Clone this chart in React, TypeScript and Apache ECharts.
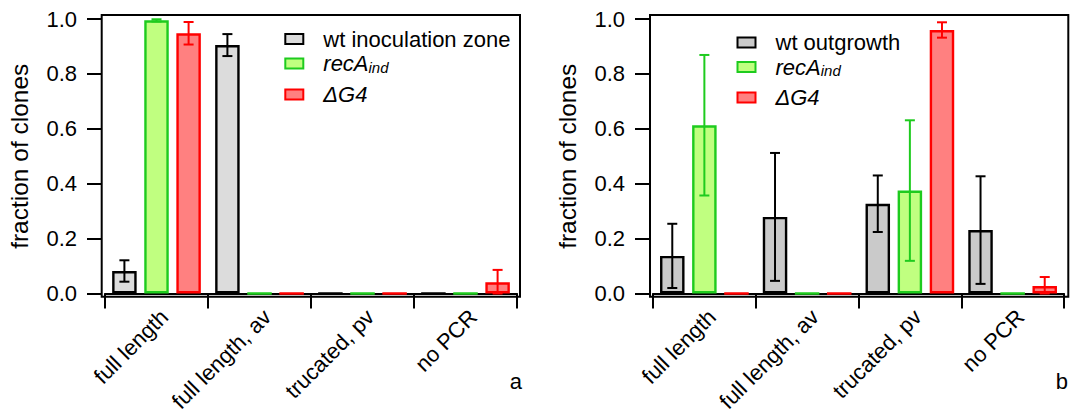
import React, { useEffect, useRef } from "react";
import * as echarts from "echarts";

const categories = ["full length", "full length, av", "trucated, pv", "no PCR"];

// panel a
const wtInoculation = [0.082, 0.905, 0, 0];
const wtInoculationErr = [0.039, 0.04, 0, 0];
const recAIndA = [0.995, 0, 0, 0];
const recAIndAErr = [0.004, 0, 0, 0];
const dG4A = [0.948, 0, 0, 0.041];
const dG4AErr = [0.041, 0, 0, 0.045];

// panel b
const wtOutgrowth = [0.137, 0.279, 0.327, 0.231];
const wtOutgrowthErr = [0.117, 0.233, 0.103, 0.196];
const recAIndB = [0.613, 0, 0.375, 0];
const recAIndBErr = [0.256, 0, 0.256, 0];
const dG4B = [0, 0, 0.96, 0.027];
const dG4BErr = [0, 0, 0.028, 0.033];

const FONT = "'Liberation Sans', Arial, Helvetica, sans-serif";
const BAR_W = 24.5;
const BAR_GAP = 0.31;

const GREEN_FILL = "#c0ff80";
const GREEN_LINE = "#1ecb1e";
const RED_FILL = "#ff8080";
const RED_LINE = "#ff0000";

function barSeries(name: string, data: number[], idx: number, fill: string, line: string) {
  return {
    type: "bar",
    name,
    xAxisIndex: idx,
    yAxisIndex: idx,
    data,
    barWidth: BAR_W,
    barGap: BAR_GAP * 100 + "%",
    itemStyle: { color: fill, borderColor: line, borderWidth: 2.4 },
    emphasis: { disabled: true },
  };
}

function errSeries(vals: number[], errs: number[], idx: number, pos: number, color: string) {
  const offset = (pos - 1) * BAR_W * (1 + BAR_GAP);
  return {
    type: "custom",
    xAxisIndex: idx,
    yAxisIndex: idx,
    z: 5,
    silent: true,
    encode: { x: 0, y: 1 },
    data: vals.map((v, i) => [i, v, errs[i]]),
    renderItem: (params: any, api: any) => {
      const x = api.value(0);
      const v = api.value(1);
      const e = api.value(2);
      if (!e) return { type: "group", children: [] };
      const c = api.coord([x, v]);
      const hi = api.coord([x, v + e]);
      const lo = api.coord([x, Math.max(0, v - e)]);
      const cx = c[0] + offset;
      const st = { stroke: color, lineWidth: 2 };
      return {
        type: "group",
        children: [
          { type: "line", shape: { x1: cx, y1: hi[1], x2: cx, y2: lo[1] }, style: st },
          { type: "line", shape: { x1: cx - 5, y1: hi[1], x2: cx + 5, y2: hi[1] }, style: st },
          { type: "line", shape: { x1: cx - 5, y1: lo[1], x2: cx + 5, y2: lo[1] }, style: st },
        ],
      };
    },
  };
}

function legendFmt(name: string) {
  if (name === "recAind") return "{i|recA}{s|ind}";
  if (name === "ΔG4") return "{i|ΔG4}";
  return name;
}

const legendBase = {
  orient: "vertical",
  icon: "rect",
  itemWidth: 18,
  itemHeight: 10,
  padding: 0,
  selectedMode: false,
  formatter: legendFmt,
  itemStyle: { borderWidth: 2 },
  textStyle: {
    fontFamily: FONT,
    fontSize: 22,
    lineHeight: 22,
    color: "#000",
    padding: [0, 0, 0, 15],
    rich: {
      i: { fontFamily: FONT, fontSize: 22, fontStyle: "italic", lineHeight: 22, color: "#000" },
      s: { fontFamily: FONT, fontSize: 15, fontStyle: "italic", lineHeight: 8, verticalAlign: "bottom", color: "#000" },
    },
  },
};

function xAxisCfg(idx: number) {
  return {
    type: "category",
    gridIndex: idx,
    data: categories,
    offset: 3,
    axisLine: { show: true, lineStyle: { color: "#000", width: 2 } },
    axisTick: { show: true, length: 15, lineStyle: { color: "#000", width: 2 } },
    axisLabel: {
      rotate: 45,
      fontFamily: FONT,
      fontSize: 22,
      color: "#000",
      margin: 9,
      verticalAlign: "top",
      interval: 0,
    },
    splitLine: { show: false },
  };
}

function yAxisCfg(idx: number) {
  return {
    type: "value",
    gridIndex: idx,
    min: 0,
    max: 1,
    interval: 0.2,
    offset: 3,
    name: "fraction of clones",
    nameLocation: "middle",
    nameGap: 70.5,
    nameTextStyle: { fontFamily: FONT, fontSize: 24.5, color: "#000" },
    axisLine: { show: false },
    axisTick: { show: true, length: 15, lineStyle: { color: "#000", width: 2 } },
    axisLabel: {
      fontFamily: FONT,
      fontSize: 22,
      color: "#000",
      margin: 25,
      formatter: (v: number) => v.toFixed(1),
    },
    splitLine: { show: false },
  };
}

export default function App() {
  const ref = useRef<HTMLDivElement>(null);
  useEffect(() => {
    document.body.style.margin = "0";
    if (!ref.current) return;
    const chart = echarts.init(ref.current, undefined, { renderer: "svg" });
    const option: any = {
      animation: false,
      backgroundColor: "#fff",
      grid: [
        { left: 105, right: 1078 - 517, top: 19, bottom: 416 - 293.5 },
        { left: 653, right: 1078 - 1064, top: 19, bottom: 416 - 293.5 },
      ],
      xAxis: [xAxisCfg(0), xAxisCfg(1)],
      yAxis: [yAxisCfg(0), yAxisCfg(1)],
      legend: [
        { ...legendBase, left: 284.3, top: 28, itemGap: 2.5, data: ["wt inoculation zone", "recAind"] },
        { ...legendBase, left: 284.3, top: 83.5, itemGap: 3, data: ["ΔG4"] },
        { ...legendBase, left: 736.5, top: 31.5, itemGap: 2.5, data: ["wt outgrowth", "recAind"] },
        { ...legendBase, left: 736.5, top: 86.5, itemGap: 3, data: ["ΔG4"] },
      ],
      graphic: [
        {
          type: "rect",
          shape: { x: 101.7, y: 15, width: 418.3, height: 281.7 },
          style: { fill: "none", stroke: "#000", lineWidth: 2 },
          z: 10,
          silent: true,
        },
        {
          type: "rect",
          shape: { x: 650, y: 15, width: 418.3, height: 281.7 },
          style: { fill: "none", stroke: "#000", lineWidth: 2 },
          z: 10,
          silent: true,
        },
        {
          type: "text",
          x: 522,
          y: 392,
          style: { text: "a", fontFamily: FONT, fontSize: 22, fill: "#000", align: "right", verticalAlign: "bottom" },
        },
        {
          type: "text",
          x: 1068,
          y: 392,
          style: { text: "b", fontFamily: FONT, fontSize: 22, fill: "#000", align: "right", verticalAlign: "bottom" },
        },
      ],
      series: [
        barSeries("wt inoculation zone", wtInoculation, 0, "#dcdcdc", "#000"),
        barSeries("recAind", recAIndA, 0, GREEN_FILL, GREEN_LINE),
        barSeries("ΔG4", dG4A, 0, RED_FILL, RED_LINE),
        errSeries(wtInoculation, wtInoculationErr, 0, 0, "#000"),
        errSeries(recAIndA, recAIndAErr, 0, 1, GREEN_LINE),
        errSeries(dG4A, dG4AErr, 0, 2, RED_LINE),
        barSeries("wt outgrowth", wtOutgrowth, 1, "#cacaca", "#000"),
        barSeries("recAind", recAIndB, 1, GREEN_FILL, GREEN_LINE),
        barSeries("ΔG4", dG4B, 1, RED_FILL, RED_LINE),
        errSeries(wtOutgrowth, wtOutgrowthErr, 1, 0, "#000"),
        errSeries(recAIndB, recAIndBErr, 1, 1, GREEN_LINE),
        errSeries(dG4B, dG4BErr, 1, 2, RED_LINE),
      ],
    };
    chart.setOption(option);
    return () => chart.dispose();
  }, []);
  return <div ref={ref} style={{ width: 1078, height: 416 }} />;
}
